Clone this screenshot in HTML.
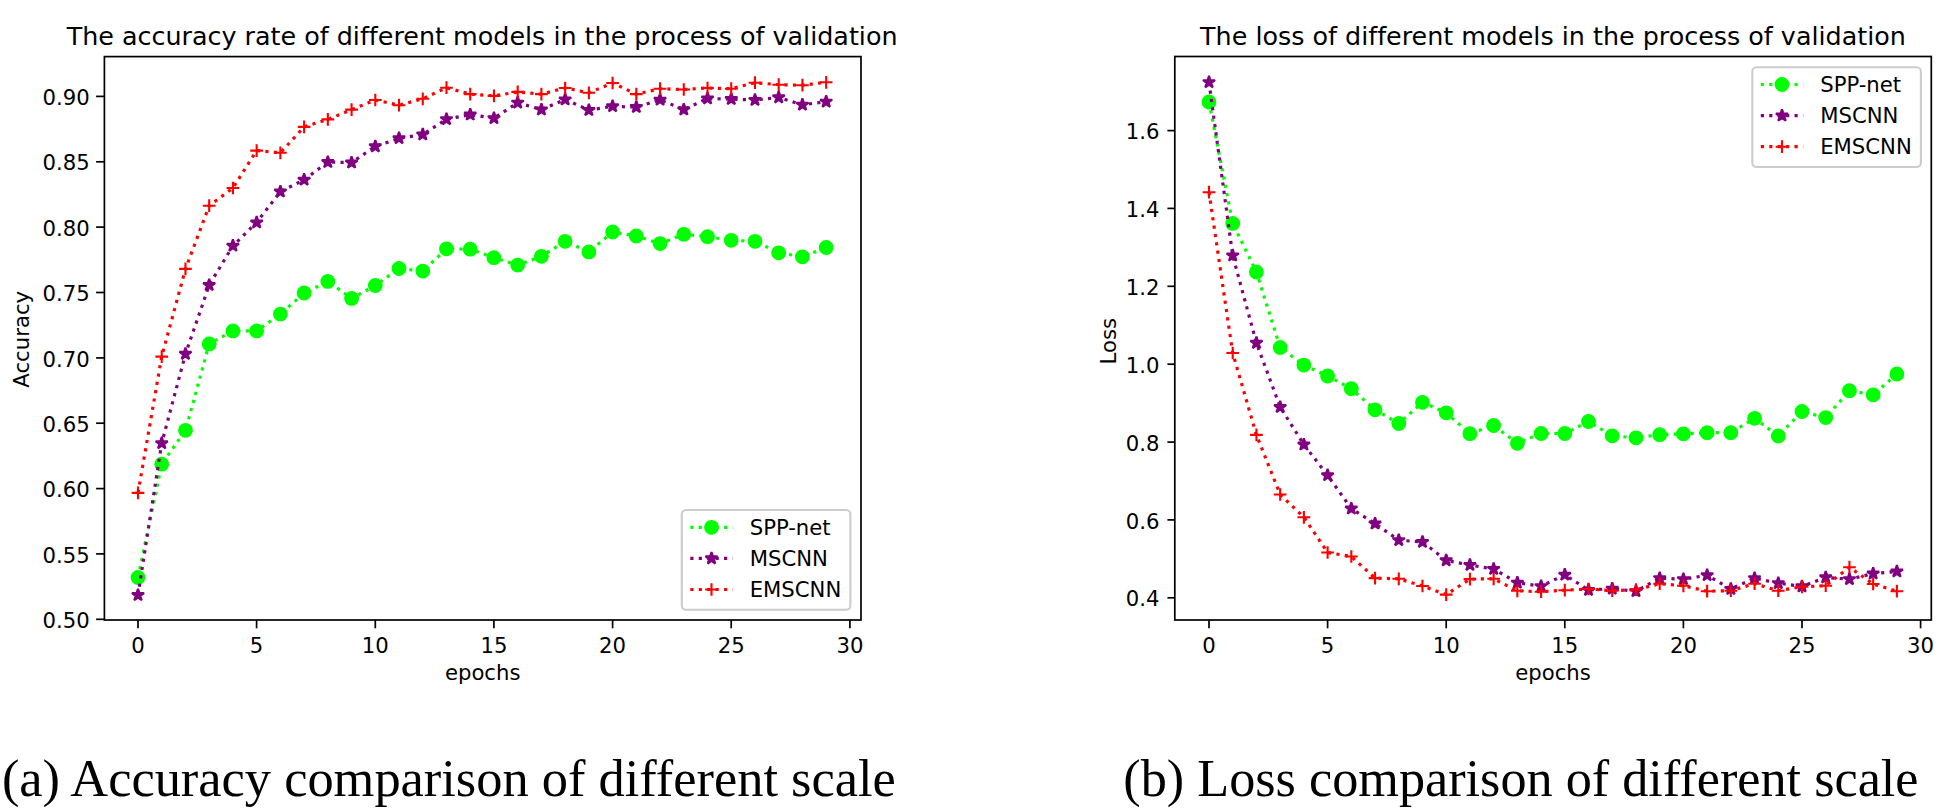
<!DOCTYPE html>
<html lang="en"><head><meta charset="utf-8"><title>Accuracy and loss comparison</title>
<style>
html,body{margin:0;padding:0;background:#fff;}
body{width:1948px;height:812px;overflow:hidden;}
svg{display:block;font-family:'DejaVu Sans','Liberation Sans',sans-serif;fill:#000;}
svg text{fill:#000;font-variant-ligatures:none;font-feature-settings:'liga' 0,'clig' 0,'dlig' 0;white-space:pre;}
</style></head><body>
<svg width="1948" height="812" viewBox="0 0 1948 812">
<rect width="1948" height="812" fill="#fff"/>
<clipPath id="c104"><rect x="104.4" y="56.6" width="756.6" height="563.4"/></clipPath>
<g clip-path="url(#c104)">
<polyline points="138.0,577.5 161.7,464.2 185.5,430.3 209.2,343.9 232.9,330.9 256.6,330.9 280.4,314.1 304.1,293.0 327.8,281.4 351.6,298.4 375.3,285.5 399.0,268.5 422.8,271.1 446.5,248.8 470.2,249.2 493.9,257.7 517.7,265.1 541.4,256.3 565.1,241.3 588.9,251.9 612.6,232.0 636.3,236.0 660.1,243.6 683.8,234.3 707.5,236.7 731.2,240.3 755.0,241.3 778.7,252.8 802.4,256.8 826.2,247.5" fill="none" stroke="#00ff00" stroke-width="3.18" stroke-dasharray="3.18 5.25" stroke-linejoin="round"/>
<circle cx="138.0" cy="577.5" r="6.36" fill="#00ff00" stroke="#00ff00" stroke-width="2.12"/>
<circle cx="161.7" cy="464.2" r="6.36" fill="#00ff00" stroke="#00ff00" stroke-width="2.12"/>
<circle cx="185.5" cy="430.3" r="6.36" fill="#00ff00" stroke="#00ff00" stroke-width="2.12"/>
<circle cx="209.2" cy="343.9" r="6.36" fill="#00ff00" stroke="#00ff00" stroke-width="2.12"/>
<circle cx="232.9" cy="330.9" r="6.36" fill="#00ff00" stroke="#00ff00" stroke-width="2.12"/>
<circle cx="256.6" cy="330.9" r="6.36" fill="#00ff00" stroke="#00ff00" stroke-width="2.12"/>
<circle cx="280.4" cy="314.1" r="6.36" fill="#00ff00" stroke="#00ff00" stroke-width="2.12"/>
<circle cx="304.1" cy="293.0" r="6.36" fill="#00ff00" stroke="#00ff00" stroke-width="2.12"/>
<circle cx="327.8" cy="281.4" r="6.36" fill="#00ff00" stroke="#00ff00" stroke-width="2.12"/>
<circle cx="351.6" cy="298.4" r="6.36" fill="#00ff00" stroke="#00ff00" stroke-width="2.12"/>
<circle cx="375.3" cy="285.5" r="6.36" fill="#00ff00" stroke="#00ff00" stroke-width="2.12"/>
<circle cx="399.0" cy="268.5" r="6.36" fill="#00ff00" stroke="#00ff00" stroke-width="2.12"/>
<circle cx="422.8" cy="271.1" r="6.36" fill="#00ff00" stroke="#00ff00" stroke-width="2.12"/>
<circle cx="446.5" cy="248.8" r="6.36" fill="#00ff00" stroke="#00ff00" stroke-width="2.12"/>
<circle cx="470.2" cy="249.2" r="6.36" fill="#00ff00" stroke="#00ff00" stroke-width="2.12"/>
<circle cx="493.9" cy="257.7" r="6.36" fill="#00ff00" stroke="#00ff00" stroke-width="2.12"/>
<circle cx="517.7" cy="265.1" r="6.36" fill="#00ff00" stroke="#00ff00" stroke-width="2.12"/>
<circle cx="541.4" cy="256.3" r="6.36" fill="#00ff00" stroke="#00ff00" stroke-width="2.12"/>
<circle cx="565.1" cy="241.3" r="6.36" fill="#00ff00" stroke="#00ff00" stroke-width="2.12"/>
<circle cx="588.9" cy="251.9" r="6.36" fill="#00ff00" stroke="#00ff00" stroke-width="2.12"/>
<circle cx="612.6" cy="232.0" r="6.36" fill="#00ff00" stroke="#00ff00" stroke-width="2.12"/>
<circle cx="636.3" cy="236.0" r="6.36" fill="#00ff00" stroke="#00ff00" stroke-width="2.12"/>
<circle cx="660.1" cy="243.6" r="6.36" fill="#00ff00" stroke="#00ff00" stroke-width="2.12"/>
<circle cx="683.8" cy="234.3" r="6.36" fill="#00ff00" stroke="#00ff00" stroke-width="2.12"/>
<circle cx="707.5" cy="236.7" r="6.36" fill="#00ff00" stroke="#00ff00" stroke-width="2.12"/>
<circle cx="731.2" cy="240.3" r="6.36" fill="#00ff00" stroke="#00ff00" stroke-width="2.12"/>
<circle cx="755.0" cy="241.3" r="6.36" fill="#00ff00" stroke="#00ff00" stroke-width="2.12"/>
<circle cx="778.7" cy="252.8" r="6.36" fill="#00ff00" stroke="#00ff00" stroke-width="2.12"/>
<circle cx="802.4" cy="256.8" r="6.36" fill="#00ff00" stroke="#00ff00" stroke-width="2.12"/>
<circle cx="826.2" cy="247.5" r="6.36" fill="#00ff00" stroke="#00ff00" stroke-width="2.12"/>
<polyline points="138.0,595.1 161.7,443.3 185.5,353.9 209.2,285.1 232.9,245.8 256.6,222.5 280.4,191.6 304.1,179.8 327.8,162.1 351.6,162.6 375.3,146.4 399.0,138.3 422.8,134.5 446.5,119.2 470.2,114.6 493.9,118.2 517.7,102.7 541.4,109.6 565.1,99.5 588.9,110.1 612.6,106.3 636.3,107.1 660.1,99.8 683.8,109.6 707.5,98.5 731.2,99.1 755.0,100.0 778.7,97.4 802.4,104.8 826.2,101.7" fill="none" stroke="#800080" stroke-width="3.18" stroke-dasharray="3.18 5.25" stroke-linejoin="round"/>
<polygon points="138.00,588.74 139.43,593.13 144.05,593.13 140.31,595.85 141.74,600.25 138.00,597.53 134.26,600.25 135.69,595.85 131.95,593.13 136.57,593.13" fill="#800080" stroke="#800080" stroke-width="2.12" stroke-linejoin="bevel"/>
<polygon points="161.73,436.94 163.16,441.33 167.78,441.33 164.04,444.05 165.47,448.45 161.73,445.73 157.99,448.45 159.42,444.05 155.68,441.33 160.30,441.33" fill="#800080" stroke="#800080" stroke-width="2.12" stroke-linejoin="bevel"/>
<polygon points="185.46,347.54 186.89,351.93 191.51,351.93 187.77,354.65 189.20,359.05 185.46,356.33 181.72,359.05 183.15,354.65 179.41,351.93 184.03,351.93" fill="#800080" stroke="#800080" stroke-width="2.12" stroke-linejoin="bevel"/>
<polygon points="209.19,278.74 210.62,283.13 215.24,283.13 211.50,285.85 212.93,290.25 209.19,287.53 205.45,290.25 206.88,285.85 203.14,283.13 207.76,283.13" fill="#800080" stroke="#800080" stroke-width="2.12" stroke-linejoin="bevel"/>
<polygon points="232.92,239.44 234.35,243.83 238.97,243.83 235.23,246.55 236.66,250.95 232.92,248.23 229.18,250.95 230.61,246.55 226.87,243.83 231.49,243.83" fill="#800080" stroke="#800080" stroke-width="2.12" stroke-linejoin="bevel"/>
<polygon points="256.65,216.14 258.08,220.53 262.70,220.53 258.96,223.25 260.39,227.65 256.65,224.93 252.91,227.65 254.34,223.25 250.60,220.53 255.22,220.53" fill="#800080" stroke="#800080" stroke-width="2.12" stroke-linejoin="bevel"/>
<polygon points="280.38,185.24 281.81,189.63 286.43,189.63 282.69,192.35 284.12,196.75 280.38,194.03 276.64,196.75 278.07,192.35 274.33,189.63 278.95,189.63" fill="#800080" stroke="#800080" stroke-width="2.12" stroke-linejoin="bevel"/>
<polygon points="304.11,173.44 305.54,177.83 310.16,177.83 306.42,180.55 307.85,184.95 304.11,182.23 300.37,184.95 301.80,180.55 298.06,177.83 302.68,177.83" fill="#800080" stroke="#800080" stroke-width="2.12" stroke-linejoin="bevel"/>
<polygon points="327.84,155.74 329.27,160.13 333.89,160.13 330.15,162.85 331.58,167.25 327.84,164.53 324.10,167.25 325.53,162.85 321.79,160.13 326.41,160.13" fill="#800080" stroke="#800080" stroke-width="2.12" stroke-linejoin="bevel"/>
<polygon points="351.57,156.24 353.00,160.63 357.62,160.63 353.88,163.35 355.31,167.75 351.57,165.03 347.83,167.75 349.26,163.35 345.52,160.63 350.14,160.63" fill="#800080" stroke="#800080" stroke-width="2.12" stroke-linejoin="bevel"/>
<polygon points="375.30,140.04 376.73,144.43 381.35,144.43 377.61,147.15 379.04,151.55 375.30,148.83 371.56,151.55 372.99,147.15 369.25,144.43 373.87,144.43" fill="#800080" stroke="#800080" stroke-width="2.12" stroke-linejoin="bevel"/>
<polygon points="399.03,131.94 400.46,136.33 405.08,136.33 401.34,139.05 402.77,143.45 399.03,140.73 395.29,143.45 396.72,139.05 392.98,136.33 397.60,136.33" fill="#800080" stroke="#800080" stroke-width="2.12" stroke-linejoin="bevel"/>
<polygon points="422.76,128.14 424.19,132.53 428.81,132.53 425.07,135.25 426.50,139.65 422.76,136.93 419.02,139.65 420.45,135.25 416.71,132.53 421.33,132.53" fill="#800080" stroke="#800080" stroke-width="2.12" stroke-linejoin="bevel"/>
<polygon points="446.49,112.84 447.92,117.23 452.54,117.23 448.80,119.95 450.23,124.35 446.49,121.63 442.75,124.35 444.18,119.95 440.44,117.23 445.06,117.23" fill="#800080" stroke="#800080" stroke-width="2.12" stroke-linejoin="bevel"/>
<polygon points="470.22,108.24 471.65,112.63 476.27,112.63 472.53,115.35 473.96,119.75 470.22,117.03 466.48,119.75 467.91,115.35 464.17,112.63 468.79,112.63" fill="#800080" stroke="#800080" stroke-width="2.12" stroke-linejoin="bevel"/>
<polygon points="493.95,111.84 495.38,116.23 500.00,116.23 496.26,118.95 497.69,123.35 493.95,120.63 490.21,123.35 491.64,118.95 487.90,116.23 492.52,116.23" fill="#800080" stroke="#800080" stroke-width="2.12" stroke-linejoin="bevel"/>
<polygon points="517.68,96.34 519.11,100.73 523.73,100.73 519.99,103.45 521.42,107.85 517.68,105.13 513.94,107.85 515.37,103.45 511.63,100.73 516.25,100.73" fill="#800080" stroke="#800080" stroke-width="2.12" stroke-linejoin="bevel"/>
<polygon points="541.41,103.24 542.84,107.63 547.46,107.63 543.72,110.35 545.15,114.75 541.41,112.03 537.67,114.75 539.10,110.35 535.36,107.63 539.98,107.63" fill="#800080" stroke="#800080" stroke-width="2.12" stroke-linejoin="bevel"/>
<polygon points="565.14,93.14 566.57,97.53 571.19,97.53 567.45,100.25 568.88,104.65 565.14,101.93 561.40,104.65 562.83,100.25 559.09,97.53 563.71,97.53" fill="#800080" stroke="#800080" stroke-width="2.12" stroke-linejoin="bevel"/>
<polygon points="588.87,103.74 590.30,108.13 594.92,108.13 591.18,110.85 592.61,115.25 588.87,112.53 585.13,115.25 586.56,110.85 582.82,108.13 587.44,108.13" fill="#800080" stroke="#800080" stroke-width="2.12" stroke-linejoin="bevel"/>
<polygon points="612.60,99.94 614.03,104.33 618.65,104.33 614.91,107.05 616.34,111.45 612.60,108.73 608.86,111.45 610.29,107.05 606.55,104.33 611.17,104.33" fill="#800080" stroke="#800080" stroke-width="2.12" stroke-linejoin="bevel"/>
<polygon points="636.33,100.74 637.76,105.13 642.38,105.13 638.64,107.85 640.07,112.25 636.33,109.53 632.59,112.25 634.02,107.85 630.28,105.13 634.90,105.13" fill="#800080" stroke="#800080" stroke-width="2.12" stroke-linejoin="bevel"/>
<polygon points="660.06,93.44 661.49,97.83 666.11,97.83 662.37,100.55 663.80,104.95 660.06,102.23 656.32,104.95 657.75,100.55 654.01,97.83 658.63,97.83" fill="#800080" stroke="#800080" stroke-width="2.12" stroke-linejoin="bevel"/>
<polygon points="683.79,103.24 685.22,107.63 689.84,107.63 686.10,110.35 687.53,114.75 683.79,112.03 680.05,114.75 681.48,110.35 677.74,107.63 682.36,107.63" fill="#800080" stroke="#800080" stroke-width="2.12" stroke-linejoin="bevel"/>
<polygon points="707.52,92.14 708.95,96.53 713.57,96.53 709.83,99.25 711.26,103.65 707.52,100.93 703.78,103.65 705.21,99.25 701.47,96.53 706.09,96.53" fill="#800080" stroke="#800080" stroke-width="2.12" stroke-linejoin="bevel"/>
<polygon points="731.25,92.74 732.68,97.13 737.30,97.13 733.56,99.85 734.99,104.25 731.25,101.53 727.51,104.25 728.94,99.85 725.20,97.13 729.82,97.13" fill="#800080" stroke="#800080" stroke-width="2.12" stroke-linejoin="bevel"/>
<polygon points="754.98,93.64 756.41,98.03 761.03,98.03 757.29,100.75 758.72,105.15 754.98,102.43 751.24,105.15 752.67,100.75 748.93,98.03 753.55,98.03" fill="#800080" stroke="#800080" stroke-width="2.12" stroke-linejoin="bevel"/>
<polygon points="778.71,91.04 780.14,95.43 784.76,95.43 781.02,98.15 782.45,102.55 778.71,99.83 774.97,102.55 776.40,98.15 772.66,95.43 777.28,95.43" fill="#800080" stroke="#800080" stroke-width="2.12" stroke-linejoin="bevel"/>
<polygon points="802.44,98.44 803.87,102.83 808.49,102.83 804.75,105.55 806.18,109.95 802.44,107.23 798.70,109.95 800.13,105.55 796.39,102.83 801.01,102.83" fill="#800080" stroke="#800080" stroke-width="2.12" stroke-linejoin="bevel"/>
<polygon points="826.17,95.34 827.60,99.73 832.22,99.73 828.48,102.45 829.91,106.85 826.17,104.13 822.43,106.85 823.86,102.45 820.12,99.73 824.74,99.73" fill="#800080" stroke="#800080" stroke-width="2.12" stroke-linejoin="bevel"/>
<polyline points="138.0,492.9 161.7,356.6 185.5,268.9 209.2,205.7 232.9,188.0 256.6,150.6 280.4,152.8 304.1,126.9 327.8,119.4 351.6,109.6 375.3,100.0 399.0,105.2 422.8,98.8 446.5,87.7 470.2,94.1 493.9,95.9 517.7,91.9 541.4,94.1 565.1,88.0 588.9,92.8 612.6,83.0 636.3,94.1 660.1,88.7 683.8,89.5 707.5,88.0 731.2,88.7 755.0,82.7 778.7,84.7 802.4,85.2 826.2,82.3" fill="none" stroke="#ff0000" stroke-width="3.18" stroke-dasharray="3.18 5.25" stroke-linejoin="round"/>
<path d="M131.64 492.90H144.36M138.00 486.54V499.26" stroke="#ff0000" stroke-width="2.12" fill="none"/>
<path d="M155.37 356.60H168.09M161.73 350.24V362.96" stroke="#ff0000" stroke-width="2.12" fill="none"/>
<path d="M179.10 268.90H191.82M185.46 262.54V275.26" stroke="#ff0000" stroke-width="2.12" fill="none"/>
<path d="M202.83 205.70H215.55M209.19 199.34V212.06" stroke="#ff0000" stroke-width="2.12" fill="none"/>
<path d="M226.56 188.00H239.28M232.92 181.64V194.36" stroke="#ff0000" stroke-width="2.12" fill="none"/>
<path d="M250.29 150.60H263.01M256.65 144.24V156.96" stroke="#ff0000" stroke-width="2.12" fill="none"/>
<path d="M274.02 152.80H286.74M280.38 146.44V159.16" stroke="#ff0000" stroke-width="2.12" fill="none"/>
<path d="M297.75 126.90H310.47M304.11 120.54V133.26" stroke="#ff0000" stroke-width="2.12" fill="none"/>
<path d="M321.48 119.40H334.20M327.84 113.04V125.76" stroke="#ff0000" stroke-width="2.12" fill="none"/>
<path d="M345.21 109.60H357.93M351.57 103.24V115.96" stroke="#ff0000" stroke-width="2.12" fill="none"/>
<path d="M368.94 100.00H381.66M375.30 93.64V106.36" stroke="#ff0000" stroke-width="2.12" fill="none"/>
<path d="M392.67 105.20H405.39M399.03 98.84V111.56" stroke="#ff0000" stroke-width="2.12" fill="none"/>
<path d="M416.40 98.80H429.12M422.76 92.44V105.16" stroke="#ff0000" stroke-width="2.12" fill="none"/>
<path d="M440.13 87.70H452.85M446.49 81.34V94.06" stroke="#ff0000" stroke-width="2.12" fill="none"/>
<path d="M463.86 94.10H476.58M470.22 87.74V100.46" stroke="#ff0000" stroke-width="2.12" fill="none"/>
<path d="M487.59 95.90H500.31M493.95 89.54V102.26" stroke="#ff0000" stroke-width="2.12" fill="none"/>
<path d="M511.32 91.90H524.04M517.68 85.54V98.26" stroke="#ff0000" stroke-width="2.12" fill="none"/>
<path d="M535.05 94.10H547.77M541.41 87.74V100.46" stroke="#ff0000" stroke-width="2.12" fill="none"/>
<path d="M558.78 88.00H571.50M565.14 81.64V94.36" stroke="#ff0000" stroke-width="2.12" fill="none"/>
<path d="M582.51 92.80H595.23M588.87 86.44V99.16" stroke="#ff0000" stroke-width="2.12" fill="none"/>
<path d="M606.24 83.00H618.96M612.60 76.64V89.36" stroke="#ff0000" stroke-width="2.12" fill="none"/>
<path d="M629.97 94.10H642.69M636.33 87.74V100.46" stroke="#ff0000" stroke-width="2.12" fill="none"/>
<path d="M653.70 88.70H666.42M660.06 82.34V95.06" stroke="#ff0000" stroke-width="2.12" fill="none"/>
<path d="M677.43 89.50H690.15M683.79 83.14V95.86" stroke="#ff0000" stroke-width="2.12" fill="none"/>
<path d="M701.16 88.00H713.88M707.52 81.64V94.36" stroke="#ff0000" stroke-width="2.12" fill="none"/>
<path d="M724.89 88.70H737.61M731.25 82.34V95.06" stroke="#ff0000" stroke-width="2.12" fill="none"/>
<path d="M748.62 82.70H761.34M754.98 76.34V89.06" stroke="#ff0000" stroke-width="2.12" fill="none"/>
<path d="M772.35 84.70H785.07M778.71 78.34V91.06" stroke="#ff0000" stroke-width="2.12" fill="none"/>
<path d="M796.08 85.20H808.80M802.44 78.84V91.56" stroke="#ff0000" stroke-width="2.12" fill="none"/>
<path d="M819.81 82.30H832.53M826.17 75.94V88.66" stroke="#ff0000" stroke-width="2.12" fill="none"/>
</g>
<path d="M138.0 620.0v8.3" stroke="#000" stroke-width="1.7"/>
<text x="138.0" y="652.5" font-size="21.2" text-anchor="middle" >0</text>
<path d="M256.6 620.0v8.3" stroke="#000" stroke-width="1.7"/>
<text x="256.6" y="652.5" font-size="21.2" text-anchor="middle" >5</text>
<path d="M375.3 620.0v8.3" stroke="#000" stroke-width="1.7"/>
<text x="375.3" y="652.5" font-size="21.2" text-anchor="middle" >10</text>
<path d="M493.9 620.0v8.3" stroke="#000" stroke-width="1.7"/>
<text x="493.9" y="652.5" font-size="21.2" text-anchor="middle" >15</text>
<path d="M612.6 620.0v8.3" stroke="#000" stroke-width="1.7"/>
<text x="612.6" y="652.5" font-size="21.2" text-anchor="middle" >20</text>
<path d="M731.2 620.0v8.3" stroke="#000" stroke-width="1.7"/>
<text x="731.2" y="652.5" font-size="21.2" text-anchor="middle" >25</text>
<path d="M849.9 620.0v8.3" stroke="#000" stroke-width="1.7"/>
<text x="849.9" y="652.5" font-size="21.2" text-anchor="middle" >30</text>
<path d="M104.4 619.3h-8.3" stroke="#000" stroke-width="1.7"/>
<text x="89.8" y="627.9" font-size="21.2" text-anchor="end" >0.50</text>
<path d="M104.4 553.9h-8.3" stroke="#000" stroke-width="1.7"/>
<text x="89.8" y="562.5" font-size="21.2" text-anchor="end" >0.55</text>
<path d="M104.4 488.6h-8.3" stroke="#000" stroke-width="1.7"/>
<text x="89.8" y="497.2" font-size="21.2" text-anchor="end" >0.60</text>
<path d="M104.4 423.2h-8.3" stroke="#000" stroke-width="1.7"/>
<text x="89.8" y="431.8" font-size="21.2" text-anchor="end" >0.65</text>
<path d="M104.4 357.9h-8.3" stroke="#000" stroke-width="1.7"/>
<text x="89.8" y="366.5" font-size="21.2" text-anchor="end" >0.70</text>
<path d="M104.4 292.5h-8.3" stroke="#000" stroke-width="1.7"/>
<text x="89.8" y="301.1" font-size="21.2" text-anchor="end" >0.75</text>
<path d="M104.4 227.1h-8.3" stroke="#000" stroke-width="1.7"/>
<text x="89.8" y="235.7" font-size="21.2" text-anchor="end" >0.80</text>
<path d="M104.4 161.8h-8.3" stroke="#000" stroke-width="1.7"/>
<text x="89.8" y="170.4" font-size="21.2" text-anchor="end" >0.85</text>
<path d="M104.4 96.4h-8.3" stroke="#000" stroke-width="1.7"/>
<text x="89.8" y="105.0" font-size="21.2" text-anchor="end" >0.90</text>
<rect x="104.4" y="56.6" width="756.6" height="563.4" fill="none" stroke="#000" stroke-width="1.7"/>
<text x="482.1" y="44.6" font-size="25.4" text-anchor="middle" >The accuracy rate of different models in the process of validation</text>
<text x="482.7" y="680.4" font-size="21.2" text-anchor="middle" >epochs</text>
<text transform="translate(29.3 339.3) rotate(-90)" font-size="21.2" text-anchor="middle">Accuracy</text>
<rect x="681.8" y="510.0" width="168.6" height="99.8" rx="4.2" fill="#fff" fill-opacity="0.8" stroke="#ccc" stroke-width="2.1"/>
<path d="M690.3 527.3H732.7" stroke="#00ff00" stroke-width="3.18" stroke-dasharray="3.18 5.25"/>
<circle cx="711.5" cy="527.3" r="6.36" fill="#00ff00" stroke="#00ff00" stroke-width="2.12"/>
<text x="749.7" y="534.7" font-size="21.2" text-anchor="start" >SPP-net</text>
<path d="M690.3 558.4H732.7" stroke="#800080" stroke-width="3.18" stroke-dasharray="3.18 5.25"/>
<polygon points="711.50,552.04 712.93,556.43 717.55,556.43 713.81,559.15 715.24,563.55 711.50,560.83 707.76,563.55 709.19,559.15 705.45,556.43 710.07,556.43" fill="#800080" stroke="#800080" stroke-width="2.12" stroke-linejoin="bevel"/>
<text x="749.7" y="565.8" font-size="21.2" text-anchor="start" >MSCNN</text>
<path d="M690.3 589.5H732.7" stroke="#ff0000" stroke-width="3.18" stroke-dasharray="3.18 5.25"/>
<path d="M705.14 589.50H717.86M711.50 583.14V595.86" stroke="#ff0000" stroke-width="2.12" fill="none"/>
<text x="749.7" y="596.9" font-size="21.2" text-anchor="start" >EMSCNN</text>
<clipPath id="c1174"><rect x="1174.8" y="56.5" width="756.5" height="563.5"/></clipPath>
<g clip-path="url(#c1174)">
<polyline points="1209.0,102.0 1232.7,223.4 1256.4,272.0 1280.2,347.5 1303.9,365.1 1327.6,376.0 1351.3,388.7 1375.0,409.8 1398.8,423.5 1422.5,402.3 1446.2,412.8 1469.9,433.7 1493.6,425.5 1517.4,443.3 1541.1,433.5 1564.8,433.5 1588.5,421.5 1612.2,435.8 1636.0,437.8 1659.7,434.7 1683.4,433.8 1707.1,432.7 1730.8,432.7 1754.6,418.3 1778.3,436.0 1802.0,411.5 1825.7,417.6 1849.4,390.7 1873.2,394.8 1896.9,374.0" fill="none" stroke="#00ff00" stroke-width="3.18" stroke-dasharray="3.18 5.25" stroke-linejoin="round"/>
<circle cx="1209.0" cy="102.0" r="6.36" fill="#00ff00" stroke="#00ff00" stroke-width="2.12"/>
<circle cx="1232.7" cy="223.4" r="6.36" fill="#00ff00" stroke="#00ff00" stroke-width="2.12"/>
<circle cx="1256.4" cy="272.0" r="6.36" fill="#00ff00" stroke="#00ff00" stroke-width="2.12"/>
<circle cx="1280.2" cy="347.5" r="6.36" fill="#00ff00" stroke="#00ff00" stroke-width="2.12"/>
<circle cx="1303.9" cy="365.1" r="6.36" fill="#00ff00" stroke="#00ff00" stroke-width="2.12"/>
<circle cx="1327.6" cy="376.0" r="6.36" fill="#00ff00" stroke="#00ff00" stroke-width="2.12"/>
<circle cx="1351.3" cy="388.7" r="6.36" fill="#00ff00" stroke="#00ff00" stroke-width="2.12"/>
<circle cx="1375.0" cy="409.8" r="6.36" fill="#00ff00" stroke="#00ff00" stroke-width="2.12"/>
<circle cx="1398.8" cy="423.5" r="6.36" fill="#00ff00" stroke="#00ff00" stroke-width="2.12"/>
<circle cx="1422.5" cy="402.3" r="6.36" fill="#00ff00" stroke="#00ff00" stroke-width="2.12"/>
<circle cx="1446.2" cy="412.8" r="6.36" fill="#00ff00" stroke="#00ff00" stroke-width="2.12"/>
<circle cx="1469.9" cy="433.7" r="6.36" fill="#00ff00" stroke="#00ff00" stroke-width="2.12"/>
<circle cx="1493.6" cy="425.5" r="6.36" fill="#00ff00" stroke="#00ff00" stroke-width="2.12"/>
<circle cx="1517.4" cy="443.3" r="6.36" fill="#00ff00" stroke="#00ff00" stroke-width="2.12"/>
<circle cx="1541.1" cy="433.5" r="6.36" fill="#00ff00" stroke="#00ff00" stroke-width="2.12"/>
<circle cx="1564.8" cy="433.5" r="6.36" fill="#00ff00" stroke="#00ff00" stroke-width="2.12"/>
<circle cx="1588.5" cy="421.5" r="6.36" fill="#00ff00" stroke="#00ff00" stroke-width="2.12"/>
<circle cx="1612.2" cy="435.8" r="6.36" fill="#00ff00" stroke="#00ff00" stroke-width="2.12"/>
<circle cx="1636.0" cy="437.8" r="6.36" fill="#00ff00" stroke="#00ff00" stroke-width="2.12"/>
<circle cx="1659.7" cy="434.7" r="6.36" fill="#00ff00" stroke="#00ff00" stroke-width="2.12"/>
<circle cx="1683.4" cy="433.8" r="6.36" fill="#00ff00" stroke="#00ff00" stroke-width="2.12"/>
<circle cx="1707.1" cy="432.7" r="6.36" fill="#00ff00" stroke="#00ff00" stroke-width="2.12"/>
<circle cx="1730.8" cy="432.7" r="6.36" fill="#00ff00" stroke="#00ff00" stroke-width="2.12"/>
<circle cx="1754.6" cy="418.3" r="6.36" fill="#00ff00" stroke="#00ff00" stroke-width="2.12"/>
<circle cx="1778.3" cy="436.0" r="6.36" fill="#00ff00" stroke="#00ff00" stroke-width="2.12"/>
<circle cx="1802.0" cy="411.5" r="6.36" fill="#00ff00" stroke="#00ff00" stroke-width="2.12"/>
<circle cx="1825.7" cy="417.6" r="6.36" fill="#00ff00" stroke="#00ff00" stroke-width="2.12"/>
<circle cx="1849.4" cy="390.7" r="6.36" fill="#00ff00" stroke="#00ff00" stroke-width="2.12"/>
<circle cx="1873.2" cy="394.8" r="6.36" fill="#00ff00" stroke="#00ff00" stroke-width="2.12"/>
<circle cx="1896.9" cy="374.0" r="6.36" fill="#00ff00" stroke="#00ff00" stroke-width="2.12"/>
<polyline points="1209.0,82.2 1232.7,255.5 1256.4,342.9 1280.2,407.1 1303.9,444.6 1327.6,475.3 1351.3,508.6 1375.0,523.6 1398.8,540.2 1422.5,542.0 1446.2,560.4 1469.9,565.0 1493.6,569.0 1517.4,582.7 1541.1,586.2 1564.8,574.8 1588.5,590.0 1612.2,588.7 1636.0,591.2 1659.7,578.2 1683.4,579.2 1707.1,575.3 1730.8,589.0 1754.6,578.2 1778.3,583.2 1802.0,586.4 1825.7,577.4 1849.4,579.2 1873.2,573.6 1896.9,571.5" fill="none" stroke="#800080" stroke-width="3.18" stroke-dasharray="3.18 5.25" stroke-linejoin="round"/>
<polygon points="1209.00,75.84 1210.43,80.23 1215.05,80.23 1211.31,82.95 1212.74,87.35 1209.00,84.63 1205.26,87.35 1206.69,82.95 1202.95,80.23 1207.57,80.23" fill="#800080" stroke="#800080" stroke-width="2.12" stroke-linejoin="bevel"/>
<polygon points="1232.72,249.14 1234.15,253.53 1238.77,253.53 1235.03,256.25 1236.46,260.65 1232.72,257.93 1228.98,260.65 1230.41,256.25 1226.67,253.53 1231.29,253.53" fill="#800080" stroke="#800080" stroke-width="2.12" stroke-linejoin="bevel"/>
<polygon points="1256.44,336.54 1257.87,340.93 1262.49,340.93 1258.75,343.65 1260.18,348.05 1256.44,345.33 1252.70,348.05 1254.13,343.65 1250.39,340.93 1255.01,340.93" fill="#800080" stroke="#800080" stroke-width="2.12" stroke-linejoin="bevel"/>
<polygon points="1280.16,400.74 1281.59,405.13 1286.21,405.13 1282.47,407.85 1283.90,412.25 1280.16,409.53 1276.42,412.25 1277.85,407.85 1274.11,405.13 1278.73,405.13" fill="#800080" stroke="#800080" stroke-width="2.12" stroke-linejoin="bevel"/>
<polygon points="1303.88,438.24 1305.31,442.63 1309.93,442.63 1306.19,445.35 1307.62,449.75 1303.88,447.03 1300.14,449.75 1301.57,445.35 1297.83,442.63 1302.45,442.63" fill="#800080" stroke="#800080" stroke-width="2.12" stroke-linejoin="bevel"/>
<polygon points="1327.60,468.94 1329.03,473.33 1333.65,473.33 1329.91,476.05 1331.34,480.45 1327.60,477.73 1323.86,480.45 1325.29,476.05 1321.55,473.33 1326.17,473.33" fill="#800080" stroke="#800080" stroke-width="2.12" stroke-linejoin="bevel"/>
<polygon points="1351.32,502.24 1352.75,506.63 1357.37,506.63 1353.63,509.35 1355.06,513.75 1351.32,511.03 1347.58,513.75 1349.01,509.35 1345.27,506.63 1349.89,506.63" fill="#800080" stroke="#800080" stroke-width="2.12" stroke-linejoin="bevel"/>
<polygon points="1375.04,517.24 1376.47,521.63 1381.09,521.63 1377.35,524.35 1378.78,528.75 1375.04,526.03 1371.30,528.75 1372.73,524.35 1368.99,521.63 1373.61,521.63" fill="#800080" stroke="#800080" stroke-width="2.12" stroke-linejoin="bevel"/>
<polygon points="1398.76,533.84 1400.19,538.23 1404.81,538.23 1401.07,540.95 1402.50,545.35 1398.76,542.63 1395.02,545.35 1396.45,540.95 1392.71,538.23 1397.33,538.23" fill="#800080" stroke="#800080" stroke-width="2.12" stroke-linejoin="bevel"/>
<polygon points="1422.48,535.64 1423.91,540.03 1428.53,540.03 1424.79,542.75 1426.22,547.15 1422.48,544.43 1418.74,547.15 1420.17,542.75 1416.43,540.03 1421.05,540.03" fill="#800080" stroke="#800080" stroke-width="2.12" stroke-linejoin="bevel"/>
<polygon points="1446.20,554.04 1447.63,558.43 1452.25,558.43 1448.51,561.15 1449.94,565.55 1446.20,562.83 1442.46,565.55 1443.89,561.15 1440.15,558.43 1444.77,558.43" fill="#800080" stroke="#800080" stroke-width="2.12" stroke-linejoin="bevel"/>
<polygon points="1469.92,558.64 1471.35,563.03 1475.97,563.03 1472.23,565.75 1473.66,570.15 1469.92,567.43 1466.18,570.15 1467.61,565.75 1463.87,563.03 1468.49,563.03" fill="#800080" stroke="#800080" stroke-width="2.12" stroke-linejoin="bevel"/>
<polygon points="1493.64,562.64 1495.07,567.03 1499.69,567.03 1495.95,569.75 1497.38,574.15 1493.64,571.43 1489.90,574.15 1491.33,569.75 1487.59,567.03 1492.21,567.03" fill="#800080" stroke="#800080" stroke-width="2.12" stroke-linejoin="bevel"/>
<polygon points="1517.36,576.34 1518.79,580.73 1523.41,580.73 1519.67,583.45 1521.10,587.85 1517.36,585.13 1513.62,587.85 1515.05,583.45 1511.31,580.73 1515.93,580.73" fill="#800080" stroke="#800080" stroke-width="2.12" stroke-linejoin="bevel"/>
<polygon points="1541.08,579.84 1542.51,584.23 1547.13,584.23 1543.39,586.95 1544.82,591.35 1541.08,588.63 1537.34,591.35 1538.77,586.95 1535.03,584.23 1539.65,584.23" fill="#800080" stroke="#800080" stroke-width="2.12" stroke-linejoin="bevel"/>
<polygon points="1564.80,568.44 1566.23,572.83 1570.85,572.83 1567.11,575.55 1568.54,579.95 1564.80,577.23 1561.06,579.95 1562.49,575.55 1558.75,572.83 1563.37,572.83" fill="#800080" stroke="#800080" stroke-width="2.12" stroke-linejoin="bevel"/>
<polygon points="1588.52,583.64 1589.95,588.03 1594.57,588.03 1590.83,590.75 1592.26,595.15 1588.52,592.43 1584.78,595.15 1586.21,590.75 1582.47,588.03 1587.09,588.03" fill="#800080" stroke="#800080" stroke-width="2.12" stroke-linejoin="bevel"/>
<polygon points="1612.24,582.34 1613.67,586.73 1618.29,586.73 1614.55,589.45 1615.98,593.85 1612.24,591.13 1608.50,593.85 1609.93,589.45 1606.19,586.73 1610.81,586.73" fill="#800080" stroke="#800080" stroke-width="2.12" stroke-linejoin="bevel"/>
<polygon points="1635.96,584.84 1637.39,589.23 1642.01,589.23 1638.27,591.95 1639.70,596.35 1635.96,593.63 1632.22,596.35 1633.65,591.95 1629.91,589.23 1634.53,589.23" fill="#800080" stroke="#800080" stroke-width="2.12" stroke-linejoin="bevel"/>
<polygon points="1659.68,571.84 1661.11,576.23 1665.73,576.23 1661.99,578.95 1663.42,583.35 1659.68,580.63 1655.94,583.35 1657.37,578.95 1653.63,576.23 1658.25,576.23" fill="#800080" stroke="#800080" stroke-width="2.12" stroke-linejoin="bevel"/>
<polygon points="1683.40,572.84 1684.83,577.23 1689.45,577.23 1685.71,579.95 1687.14,584.35 1683.40,581.63 1679.66,584.35 1681.09,579.95 1677.35,577.23 1681.97,577.23" fill="#800080" stroke="#800080" stroke-width="2.12" stroke-linejoin="bevel"/>
<polygon points="1707.12,568.94 1708.55,573.33 1713.17,573.33 1709.43,576.05 1710.86,580.45 1707.12,577.73 1703.38,580.45 1704.81,576.05 1701.07,573.33 1705.69,573.33" fill="#800080" stroke="#800080" stroke-width="2.12" stroke-linejoin="bevel"/>
<polygon points="1730.84,582.64 1732.27,587.03 1736.89,587.03 1733.15,589.75 1734.58,594.15 1730.84,591.43 1727.10,594.15 1728.53,589.75 1724.79,587.03 1729.41,587.03" fill="#800080" stroke="#800080" stroke-width="2.12" stroke-linejoin="bevel"/>
<polygon points="1754.56,571.84 1755.99,576.23 1760.61,576.23 1756.87,578.95 1758.30,583.35 1754.56,580.63 1750.82,583.35 1752.25,578.95 1748.51,576.23 1753.13,576.23" fill="#800080" stroke="#800080" stroke-width="2.12" stroke-linejoin="bevel"/>
<polygon points="1778.28,576.84 1779.71,581.23 1784.33,581.23 1780.59,583.95 1782.02,588.35 1778.28,585.63 1774.54,588.35 1775.97,583.95 1772.23,581.23 1776.85,581.23" fill="#800080" stroke="#800080" stroke-width="2.12" stroke-linejoin="bevel"/>
<polygon points="1802.00,580.04 1803.43,584.43 1808.05,584.43 1804.31,587.15 1805.74,591.55 1802.00,588.83 1798.26,591.55 1799.69,587.15 1795.95,584.43 1800.57,584.43" fill="#800080" stroke="#800080" stroke-width="2.12" stroke-linejoin="bevel"/>
<polygon points="1825.72,571.04 1827.15,575.43 1831.77,575.43 1828.03,578.15 1829.46,582.55 1825.72,579.83 1821.98,582.55 1823.41,578.15 1819.67,575.43 1824.29,575.43" fill="#800080" stroke="#800080" stroke-width="2.12" stroke-linejoin="bevel"/>
<polygon points="1849.44,572.84 1850.87,577.23 1855.49,577.23 1851.75,579.95 1853.18,584.35 1849.44,581.63 1845.70,584.35 1847.13,579.95 1843.39,577.23 1848.01,577.23" fill="#800080" stroke="#800080" stroke-width="2.12" stroke-linejoin="bevel"/>
<polygon points="1873.16,567.24 1874.59,571.63 1879.21,571.63 1875.47,574.35 1876.90,578.75 1873.16,576.03 1869.42,578.75 1870.85,574.35 1867.11,571.63 1871.73,571.63" fill="#800080" stroke="#800080" stroke-width="2.12" stroke-linejoin="bevel"/>
<polygon points="1896.88,565.14 1898.31,569.53 1902.93,569.53 1899.19,572.25 1900.62,576.65 1896.88,573.93 1893.14,576.65 1894.57,572.25 1890.83,569.53 1895.45,569.53" fill="#800080" stroke="#800080" stroke-width="2.12" stroke-linejoin="bevel"/>
<polyline points="1209.0,192.2 1232.7,353.0 1256.4,434.9 1280.2,494.5 1303.9,517.3 1327.6,552.5 1351.3,556.5 1375.0,578.1 1398.8,578.8 1422.5,586.0 1446.2,594.6 1469.9,579.1 1493.6,578.8 1517.4,590.8 1541.1,591.7 1564.8,590.2 1588.5,589.0 1612.2,590.7 1636.0,589.7 1659.7,583.7 1683.4,585.8 1707.1,591.2 1730.8,590.7 1754.6,583.7 1778.3,590.7 1802.0,586.8 1825.7,585.7 1849.4,567.2 1873.2,584.0 1896.9,591.2" fill="none" stroke="#ff0000" stroke-width="3.18" stroke-dasharray="3.18 5.25" stroke-linejoin="round"/>
<path d="M1202.64 192.20H1215.36M1209.00 185.84V198.56" stroke="#ff0000" stroke-width="2.12" fill="none"/>
<path d="M1226.36 353.00H1239.08M1232.72 346.64V359.36" stroke="#ff0000" stroke-width="2.12" fill="none"/>
<path d="M1250.08 434.90H1262.80M1256.44 428.54V441.26" stroke="#ff0000" stroke-width="2.12" fill="none"/>
<path d="M1273.80 494.50H1286.52M1280.16 488.14V500.86" stroke="#ff0000" stroke-width="2.12" fill="none"/>
<path d="M1297.52 517.30H1310.24M1303.88 510.94V523.66" stroke="#ff0000" stroke-width="2.12" fill="none"/>
<path d="M1321.24 552.50H1333.96M1327.60 546.14V558.86" stroke="#ff0000" stroke-width="2.12" fill="none"/>
<path d="M1344.96 556.50H1357.68M1351.32 550.14V562.86" stroke="#ff0000" stroke-width="2.12" fill="none"/>
<path d="M1368.68 578.10H1381.40M1375.04 571.74V584.46" stroke="#ff0000" stroke-width="2.12" fill="none"/>
<path d="M1392.40 578.80H1405.12M1398.76 572.44V585.16" stroke="#ff0000" stroke-width="2.12" fill="none"/>
<path d="M1416.12 586.00H1428.84M1422.48 579.64V592.36" stroke="#ff0000" stroke-width="2.12" fill="none"/>
<path d="M1439.84 594.60H1452.56M1446.20 588.24V600.96" stroke="#ff0000" stroke-width="2.12" fill="none"/>
<path d="M1463.56 579.10H1476.28M1469.92 572.74V585.46" stroke="#ff0000" stroke-width="2.12" fill="none"/>
<path d="M1487.28 578.80H1500.00M1493.64 572.44V585.16" stroke="#ff0000" stroke-width="2.12" fill="none"/>
<path d="M1511.00 590.80H1523.72M1517.36 584.44V597.16" stroke="#ff0000" stroke-width="2.12" fill="none"/>
<path d="M1534.72 591.70H1547.44M1541.08 585.34V598.06" stroke="#ff0000" stroke-width="2.12" fill="none"/>
<path d="M1558.44 590.20H1571.16M1564.80 583.84V596.56" stroke="#ff0000" stroke-width="2.12" fill="none"/>
<path d="M1582.16 589.00H1594.88M1588.52 582.64V595.36" stroke="#ff0000" stroke-width="2.12" fill="none"/>
<path d="M1605.88 590.70H1618.60M1612.24 584.34V597.06" stroke="#ff0000" stroke-width="2.12" fill="none"/>
<path d="M1629.60 589.70H1642.32M1635.96 583.34V596.06" stroke="#ff0000" stroke-width="2.12" fill="none"/>
<path d="M1653.32 583.70H1666.04M1659.68 577.34V590.06" stroke="#ff0000" stroke-width="2.12" fill="none"/>
<path d="M1677.04 585.80H1689.76M1683.40 579.44V592.16" stroke="#ff0000" stroke-width="2.12" fill="none"/>
<path d="M1700.76 591.20H1713.48M1707.12 584.84V597.56" stroke="#ff0000" stroke-width="2.12" fill="none"/>
<path d="M1724.48 590.70H1737.20M1730.84 584.34V597.06" stroke="#ff0000" stroke-width="2.12" fill="none"/>
<path d="M1748.20 583.70H1760.92M1754.56 577.34V590.06" stroke="#ff0000" stroke-width="2.12" fill="none"/>
<path d="M1771.92 590.70H1784.64M1778.28 584.34V597.06" stroke="#ff0000" stroke-width="2.12" fill="none"/>
<path d="M1795.64 586.80H1808.36M1802.00 580.44V593.16" stroke="#ff0000" stroke-width="2.12" fill="none"/>
<path d="M1819.36 585.70H1832.08M1825.72 579.34V592.06" stroke="#ff0000" stroke-width="2.12" fill="none"/>
<path d="M1843.08 567.20H1855.80M1849.44 560.84V573.56" stroke="#ff0000" stroke-width="2.12" fill="none"/>
<path d="M1866.80 584.00H1879.52M1873.16 577.64V590.36" stroke="#ff0000" stroke-width="2.12" fill="none"/>
<path d="M1890.52 591.20H1903.24M1896.88 584.84V597.56" stroke="#ff0000" stroke-width="2.12" fill="none"/>
</g>
<path d="M1209.0 620.0v8.3" stroke="#000" stroke-width="1.7"/>
<text x="1209.0" y="652.5" font-size="21.2" text-anchor="middle" >0</text>
<path d="M1327.6 620.0v8.3" stroke="#000" stroke-width="1.7"/>
<text x="1327.6" y="652.5" font-size="21.2" text-anchor="middle" >5</text>
<path d="M1446.2 620.0v8.3" stroke="#000" stroke-width="1.7"/>
<text x="1446.2" y="652.5" font-size="21.2" text-anchor="middle" >10</text>
<path d="M1564.8 620.0v8.3" stroke="#000" stroke-width="1.7"/>
<text x="1564.8" y="652.5" font-size="21.2" text-anchor="middle" >15</text>
<path d="M1683.4 620.0v8.3" stroke="#000" stroke-width="1.7"/>
<text x="1683.4" y="652.5" font-size="21.2" text-anchor="middle" >20</text>
<path d="M1802.0 620.0v8.3" stroke="#000" stroke-width="1.7"/>
<text x="1802.0" y="652.5" font-size="21.2" text-anchor="middle" >25</text>
<path d="M1920.6 620.0v8.3" stroke="#000" stroke-width="1.7"/>
<text x="1920.6" y="652.5" font-size="21.2" text-anchor="middle" >30</text>
<path d="M1174.8 597.8h-7.4" stroke="#000" stroke-width="1.7"/>
<text x="1159.4" y="606.4" font-size="21.2" text-anchor="end" >0.4</text>
<path d="M1174.8 519.9h-7.4" stroke="#000" stroke-width="1.7"/>
<text x="1159.4" y="528.5" font-size="21.2" text-anchor="end" >0.6</text>
<path d="M1174.8 442.1h-7.4" stroke="#000" stroke-width="1.7"/>
<text x="1159.4" y="450.7" font-size="21.2" text-anchor="end" >0.8</text>
<path d="M1174.8 364.2h-7.4" stroke="#000" stroke-width="1.7"/>
<text x="1159.4" y="372.8" font-size="21.2" text-anchor="end" >1.0</text>
<path d="M1174.8 286.3h-7.4" stroke="#000" stroke-width="1.7"/>
<text x="1159.4" y="294.9" font-size="21.2" text-anchor="end" >1.2</text>
<path d="M1174.8 208.4h-7.4" stroke="#000" stroke-width="1.7"/>
<text x="1159.4" y="217.0" font-size="21.2" text-anchor="end" >1.4</text>
<path d="M1174.8 130.6h-7.4" stroke="#000" stroke-width="1.7"/>
<text x="1159.4" y="139.2" font-size="21.2" text-anchor="end" >1.6</text>
<rect x="1174.8" y="56.5" width="756.5" height="563.5" fill="none" stroke="#000" stroke-width="1.7"/>
<text x="1553.0" y="44.6" font-size="25.4" text-anchor="middle" >The loss of different models in the process of validation</text>
<text x="1553.0" y="680.4" font-size="21.2" text-anchor="middle" >epochs</text>
<text transform="translate(1116.3 341.2) rotate(-90)" font-size="21.2" text-anchor="middle">Loss</text>
<rect x="1752.3" y="67.2" width="168.6" height="99.8" rx="4.2" fill="#fff" fill-opacity="0.8" stroke="#ccc" stroke-width="2.1"/>
<path d="M1760.8 84.5H1803.2" stroke="#00ff00" stroke-width="3.18" stroke-dasharray="3.18 5.25"/>
<circle cx="1782.0" cy="84.5" r="6.36" fill="#00ff00" stroke="#00ff00" stroke-width="2.12"/>
<text x="1820.2" y="91.9" font-size="21.2" text-anchor="start" >SPP-net</text>
<path d="M1760.8 115.6H1803.2" stroke="#800080" stroke-width="3.18" stroke-dasharray="3.18 5.25"/>
<polygon points="1782.00,109.24 1783.43,113.63 1788.05,113.63 1784.31,116.35 1785.74,120.75 1782.00,118.03 1778.26,120.75 1779.69,116.35 1775.95,113.63 1780.57,113.63" fill="#800080" stroke="#800080" stroke-width="2.12" stroke-linejoin="bevel"/>
<text x="1820.2" y="123.0" font-size="21.2" text-anchor="start" >MSCNN</text>
<path d="M1760.8 146.7H1803.2" stroke="#ff0000" stroke-width="3.18" stroke-dasharray="3.18 5.25"/>
<path d="M1775.64 146.70H1788.36M1782.00 140.34V153.06" stroke="#ff0000" stroke-width="2.12" fill="none"/>
<text x="1820.2" y="154.1" font-size="21.2" text-anchor="start" >EMSCNN</text>
<text transform="translate(1.9 796.2) scale(0.9742 1)" font-size="53.8" style="font-family:'Liberation Serif',serif" id="capa">(a) Accuracy comparison of different scale</text>
<text transform="translate(1123.3 796.2) scale(0.9708 1)" font-size="53.8" style="font-family:'Liberation Serif',serif" id="capb">(b) Loss comparison of different scale</text>
</svg>
</body></html>
